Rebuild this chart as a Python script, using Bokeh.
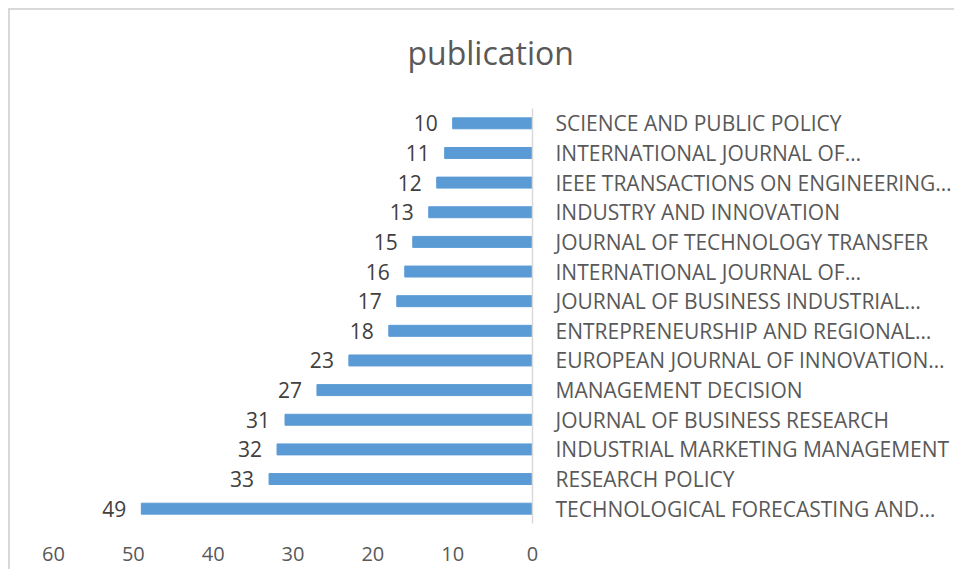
from bokeh.plotting import figure
from bokeh.models import ColumnDataSource, FixedTicker, Title
from bokeh.core.properties import value
from bokeh.embed import file_html
from bokeh.resources import INLINE

journals = [
    "SCIENCE AND PUBLIC POLICY",
    "INTERNATIONAL JOURNAL OF…",
    "IEEE TRANSACTIONS ON ENGINEERING…",
    "INDUSTRY AND INNOVATION",
    "JOURNAL OF TECHNOLOGY TRANSFER",
    "INTERNATIONAL JOURNAL OF… ",
    "JOURNAL OF BUSINESS INDUSTRIAL…",
    "ENTREPRENEURSHIP AND REGIONAL…",
    "EUROPEAN JOURNAL OF INNOVATION…",
    "MANAGEMENT DECISION",
    "JOURNAL OF BUSINESS RESEARCH",
    "INDUSTRIAL MARKETING MANAGEMENT",
    "RESEARCH POLICY",
    "TECHNOLOGICAL FORECASTING AND…",
]
publications = [10, 11, 12, 13, 15, 16, 17, 18, 23, 27, 31, 32, 33, 49]
x_ticks = [0, 10, 20, 30, 40, 50, 60]

FONT = "Open Sans"
TXT = "#595959"

src = ColumnDataSource(dict(j=journals, v=publications, t=[str(v) for v in publications]))

p = figure(
    y_range=list(reversed(journals)),
    x_range=(60, 0),
    y_axis_location="right",
    frame_width=479, frame_height=415,
    min_border_left=43, min_border_top=98, min_border_right=420, min_border_bottom=46,
    output_backend="svg", toolbar_location=None,
)
p.outline_line_color = None
p.grid.visible = False
p.styles = {"margin-left": "8px", "margin-top": "8px",
            "border-top": "2px solid #d9d9d9", "border-left": "2px solid #d9d9d9"}

p.hbar(y="j", left=0, right="v", height=0.37, color="#5b9bd5", source=src)
p.text(x="v", y="j", text="t", source=src, x_offset=-15, text_align="right",
       text_baseline="middle", text_font=value(FONT), text_font_size="21px",
       text_color="#404040")

ya = p.yaxis[0]
ya.axis_line_color = "#d9d9d9"
ya.axis_line_width = 1.5
ya.major_tick_line_color = None
ya.minor_tick_line_color = None
ya.major_label_standoff = 17
ya.major_label_text_font = FONT
ya.major_label_text_font_size = "21px"
ya.major_label_text_color = TXT

xa = p.xaxis[0]
xa.ticker = FixedTicker(ticks=x_ticks)
xa.axis_line_color = None
xa.major_tick_line_color = None
xa.minor_tick_line_color = None
xa.major_label_standoff = 17
xa.major_label_text_font = FONT
xa.major_label_text_font_size = "20px"
xa.major_label_text_color = TXT

# spacer between title and plot area
p.add_layout(Title(text=" ", text_font_size="1px", standoff=30), "above")
p.add_layout(Title(text="publication", align="left", offset=354, standoff=0,
                   vertical_align="top",
                   text_font=FONT, text_font_size="32px", text_font_style="normal",
                   text_color=TXT), "above")

open("out.html", "w").write(file_html(p, INLINE))
